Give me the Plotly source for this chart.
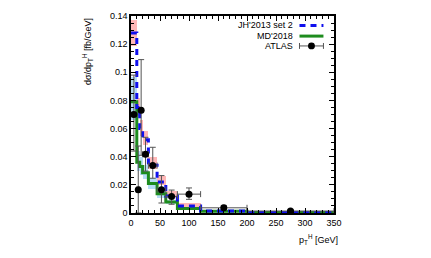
import plotly.graph_objects as go

# ---- data ----
bin_edges = [0, 10, 15, 20, 30, 45, 60, 80, 120, 200, 350]
jh_values = [0.128, 0.075, 0.060, 0.052, 0.034, 0.022, 0.012, 0.005, 0.0015, 0.0003]
jh_low    = [0.119, 0.069, 0.055, 0.048, 0.031, 0.020, 0.011, 0.0045, 0.0013, 0.0002]
jh_high   = [0.137, 0.082, 0.066, 0.058, 0.040, 0.026, 0.0155, 0.0072, 0.0022, 0.0006]
md_values = [0.079, 0.036, 0.033, 0.0286, 0.021, 0.0136, 0.0078, 0.0032, 0.0012, 0.0003]
md_low    = [0.066, 0.030, 0.027, 0.024, 0.017, 0.011, 0.0062, 0.0025, 0.0009, 0.0002]
md_high   = [0.097, 0.044, 0.040, 0.034, 0.025, 0.016, 0.0095, 0.0040, 0.0016, 0.0005]
atlas_x   = [5, 12.5, 17.5, 25, 37.5, 52.5, 70, 100, 160, 275]
atlas_y   = [0.070, 0.0166, 0.073, 0.0418, 0.0337, 0.0166, 0.0118, 0.0134, 0.0037, 0.0014]
atlas_up  = [0.028, 0.031, 0.036, 0.012, 0.013, 0.010, 0.0045, 0.0044, 0.0017, 0.0009]
atlas_dn  = [0.026, 0.0166, 0.032, 0.012, 0.009, 0.0095, 0.0056, 0.0037, 0.0015, 0.0008]
x_ticks = [0, 50, 100, 150, 200, 250, 300, 350]
y_ticks = [0, 0.02, 0.04, 0.06, 0.08, 0.1, 0.12, 0.14]
y_tick_text = ["0", "0.02", "0.04", "0.06", "0.08", "0.1", "0.12", "0.14"]

centers = [(a + b) / 2 for a, b in zip(bin_edges[:-1], bin_edges[1:])]
widths = [b - a for a, b in zip(bin_edges[:-1], bin_edges[1:])]
half_w = [w / 2 for w in widths]

PINK = "rgba(255,170,170,0.85)"
LBLUE = "rgba(170,215,245,0.85)"
BLUE = "#1010ee"
GREEN = "#1e8c1e"
FONT = "Liberation Sans, Arial, sans-serif"

fig = go.Figure()

# uncertainty bands as bars with base
fig.add_trace(go.Bar(x=centers, width=widths, base=md_low,
                     y=[h - l for h, l in zip(md_high, md_low)],
                     marker=dict(color=LBLUE, line=dict(width=0)), showlegend=False))
fig.add_trace(go.Bar(x=centers, width=widths, base=jh_low,
                     y=[h - l for h, l in zip(jh_high, jh_low)],
                     marker=dict(color=PINK, line=dict(width=0)), showlegend=False))

# step histograms
fig.add_trace(go.Scatter(x=bin_edges, y=md_values + [md_values[-1]], mode="lines",
                         line=dict(color=GREEN, width=3, shape="hv"), showlegend=False))
fig.add_trace(go.Scatter(x=bin_edges, y=jh_values + [jh_values[-1]], mode="lines",
                         line=dict(color=BLUE, width=3, shape="hv", dash="6px,5px"),
                         showlegend=False))

# ATLAS data
fig.add_trace(go.Scatter(
    x=atlas_x, y=atlas_y, mode="markers",
    marker=dict(color="black", size=7),
    error_y=dict(type="data", symmetric=False, array=atlas_up, arrayminus=atlas_dn,
                 color="#555555", thickness=1, width=3),
    error_x=dict(type="data", array=half_w, color="#555555", thickness=1, width=3),
    showlegend=False))

# page has an 8px body margin: figure is shrunk so the plot area lands where the reference has it
fig.update_layout(
    width=415, height=242,
    margin=dict(l=123, r=89, t=3, b=37),
    paper_bgcolor="white", plot_bgcolor="white",
    barmode="overlay", bargap=0,
    font=dict(family=FONT, size=9, color="black"),
    xaxis=dict(range=[0, 350], tickvals=x_ticks, ticks="inside", ticklen=5,
               tickwidth=1, tickcolor="black", showline=True, linecolor="black",
               linewidth=1.5, mirror="ticks", showgrid=False, zeroline=False,
               minor=dict(dtick=10, ticks="inside", ticklen=3, tickcolor="black")),
    yaxis=dict(range=[0, 0.14], tickvals=y_ticks, ticktext=y_tick_text, ticks="inside",
               ticklen=5, tickwidth=1, tickcolor="black", showline=True,
               linecolor="black", linewidth=1.5, mirror="ticks", showgrid=False,
               zeroline=False,
               minor=dict(dtick=0.005, ticks="inside", ticklen=3, tickcolor="black")),
)

# axis titles
fig.add_annotation(text="dσ/dp<sub>T</sub><sup>H</sup> [fb/GeV]", textangle=-90,
                   xref="paper", yref="paper", x=-0.214, y=0.82, xanchor="center",
                   yanchor="middle", showarrow=False, font=dict(size=9, family=FONT))
fig.add_annotation(text="p<sub>T</sub><sup>H</sup> [GeV]", xref="paper", yref="paper",
                   x=0.922, y=-0.134, xanchor="center", yanchor="middle", showarrow=False,
                   font=dict(size=9, family=FONT))

# manual key (text left, sample right)
key_rows = [("JH'2013 set 2", 0.952), ("MD'2018", 0.898), ("ATLAS", 0.848)]
for label, yy in key_rows:
    fig.add_annotation(text=label, xref="paper", yref="paper", x=0.808, y=yy,
                       xanchor="right", yanchor="middle", showarrow=False,
                       font=dict(size=9, family=FONT))
fig.add_shape(type="line", xref="paper", yref="paper", x0=0.830, x1=0.948,
              y0=0.952, y1=0.952, line=dict(color=BLUE, width=3, dash="6px,5px"))
fig.add_shape(type="line", xref="paper", yref="paper", x0=0.830, x1=0.948,
              y0=0.898, y1=0.898, line=dict(color=GREEN, width=3))
fig.add_shape(type="line", xref="paper", yref="paper", x0=0.830, x1=0.948,
              y0=0.848, y1=0.848, line=dict(color="#555555", width=1))
for xx in (0.830, 0.948):
    fig.add_shape(type="line", xref="paper", yref="paper", x0=xx, x1=xx,
                  y0=0.833, y1=0.863, line=dict(color="#555555", width=1))
fig.add_shape(type="circle", xref="paper", yref="paper", x0=0.872, x1=0.906,
              y0=0.831, y1=0.865, fillcolor="black", line=dict(color="black", width=0))

fig.write_html("out.html")
